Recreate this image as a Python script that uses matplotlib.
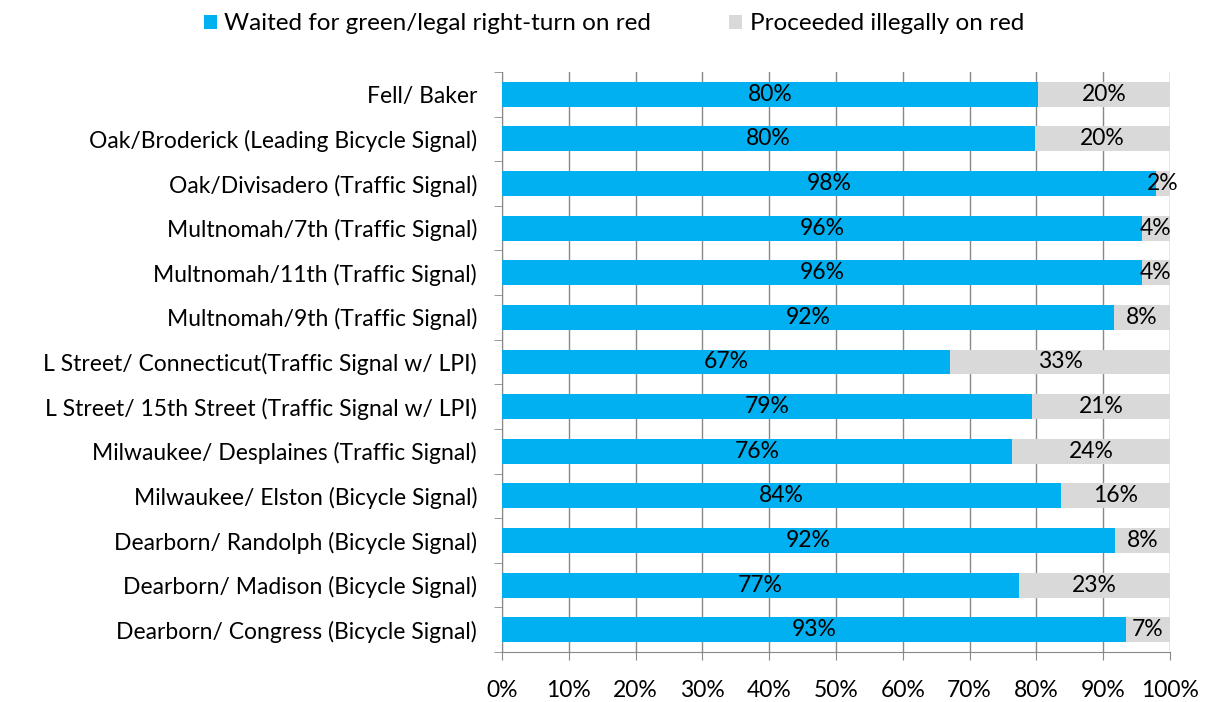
#!/usr/bin/env python3
"""Stacked horizontal bars: compliance at signalised intersections."""

import matplotlib.pyplot as plt
import numpy as np
from matplotlib.ticker import FixedLocator, PercentFormatter

plt.rcParams["font.family"] = ["Lato", "DejaVu Sans"]

sites = [
    "Fell/ Baker",
    "Oak/Broderick (Leading Bicycle Signal)",
    "Oak/Divisadero (Traffic Signal)",
    "Multnomah/7th (Traffic Signal)",
    "Multnomah/11th (Traffic Signal)",
    "Multnomah/9th (Traffic Signal)",
    "L Street/ Connecticut(Traffic Signal w/ LPI)",
    "L Street/ 15th Street (Traffic Signal w/ LPI)",
    "Milwaukee/ Desplaines (Traffic Signal)",
    "Milwaukee/ Elston (Bicycle Signal)",
    "Dearborn/ Randolph (Bicycle Signal)",
    "Dearborn/ Madison (Bicycle Signal)",
    "Dearborn/ Congress (Bicycle Signal)",
]
# share that waited (bar length) and the printed labels
waited = [80.2, 79.8, 97.9, 95.8, 95.8, 91.6, 67.1, 79.3, 76.3, 83.7, 91.8, 77.4, 93.4]
waited_lbl = [80, 80, 98, 96, 96, 92, 67, 79, 76, 84, 92, 77, 93]
illegal_lbl = [20, 20, 2, 4, 4, 8, 33, 21, 24, 16, 8, 23, 7]

BLUE = "#00b0f0"
GREY = "#d9d9d9"
FS = 16.5

waited = np.array(waited)
illegal = 100 - waited
y = np.arange(len(sites))

fig = plt.figure(figsize=(12.08, 7.02), dpi=100)
ax = fig.add_axes([502 / 1208, 50 / 702, 668 / 1208, 580 / 702])

ax.barh(y, waited, height=0.56, color=BLUE, label="Waited for green/legal right-turn on red", zorder=3)
ax.barh(y, illegal, left=waited, height=0.56, color=GREY, label="Proceeded illegally on red", zorder=3)

for yi, w, il, wl, ll in zip(y, waited, illegal, waited_lbl, illegal_lbl):
    ax.text(w / 2, yi, f"{wl}%", ha="center", va="center", fontsize=FS, zorder=4)
    ax.text(w + il / 2, yi, f"{ll}%", ha="center", va="center", fontsize=FS, zorder=4)

ax.set_xlim(0, 100)
ax.set_ylim(len(sites) - 0.5, -0.5)
ax.set_yticks(y)
ax.set_yticklabels(sites, fontsize=FS)
ax.yaxis.set_minor_locator(FixedLocator(np.arange(-0.5, len(sites), 1)))
ax.tick_params(axis="y", which="major", length=0, pad=18)
ax.tick_params(axis="y", which="minor", length=6, color="#888888")

ax.set_xticks(np.arange(0, 101, 10))
ax.xaxis.set_major_formatter(PercentFormatter(decimals=0))
ax.tick_params(axis="x", length=6, color="#888888", labelsize=FS, pad=14)
ax.grid(axis="x", color="#888888", linewidth=1, zorder=0)

for side in ["top", "right"]:
    ax.spines[side].set_visible(False)
for side in ["left", "bottom"]:
    ax.spines[side].set_color("#888888")

fig.legend(loc="upper center", bbox_to_anchor=(0.508, 1.012), ncol=2, frameon=False,
           fontsize=17.5, handlelength=0.55, handleheight=0.55, columnspacing=3.2, handletextpad=0.3)

fig.savefig("out.png", dpi=100)
